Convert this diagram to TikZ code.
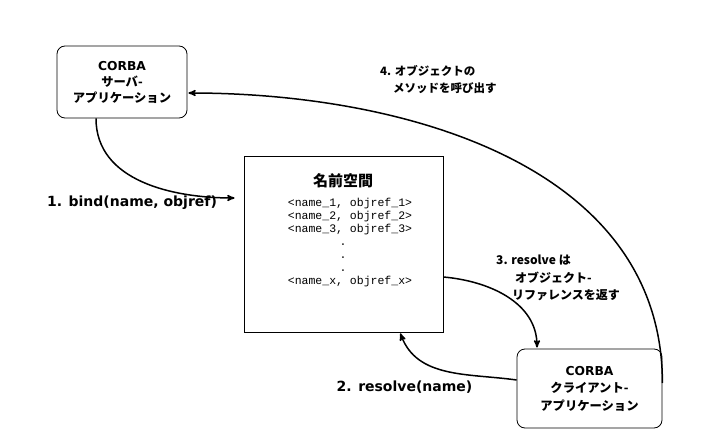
\documentclass[tikz,border=0pt]{standalone}
\usepackage{fontspec}
\newfontfamily\jpfont{Noto Sans CJK JP}
\newfontfamily\dvfont{DejaVu Sans}
\newfontfamily\monofont{Liberation Mono}
\usetikzlibrary{arrows}

\begin{document}
\begin{tikzpicture}[>=stealth',shorten >=1pt,auto,x=1pt,y=1pt,
    app/.style={draw,rounded corners=8pt,line width=0.8pt,align=center,
      font=\jpfont\bfseries\fontsize{12.3}{16}\selectfont},
    lbl/.style={font=\dvfont\bfseries\fontsize{14}{17}\selectfont},
    jplbl/.style={align=left,inner sep=0pt,font=\jpfont\bfseries\fontsize{12}{17.5}\selectfont},
    call/.style={->,line width=1.5pt}]

                \useasboundingbox (0,0) rectangle (720,445);

                \node[app,minimum width=130pt,minimum height=72pt] (srv) at (122,363)
                    {{\dvfont CORBA}\\サーバ-\\アプリケーション};

                \node[app,minimum width=145pt,minimum height=79pt,
                    font=\jpfont\bfseries\fontsize{12.3}{17.5}\selectfont] (cli) at (589.5,56.5)
                    {{\dvfont CORBA}\\クライアント-\\アプリケーション};

                \node[draw,line width=0.8pt,minimum width=199pt,minimum height=176pt] (ns) at (343.5,201) {};

                \node[font=\jpfont\bfseries\fontsize{15}{18}\selectfont] (nstitle) at (343,264) {名前空間};

                \node[align=center,font=\monofont\fontsize{11.5}{13}\selectfont] (nslist) at (350,202)
                    {<name\_1, objref\_1>\\<name\_2, objref\_2>\\<name\_3, objref\_3>\\
                     \hspace*{-14pt}.\\\hspace*{-14pt}.\\\hspace*{-14pt}.\\<name\_x, objref\_x>};

                \node[lbl] (bindlbl) at (132,242) {1. bind(name, objref)};

                \node[lbl] (reslbl) at (404.5,58) {2. resolve(name)};

                \node[jplbl,anchor=north west] (retlbl) at (496,190)
                    {3. resolve は\\\hspace*{19pt}オブジェクト-\\\hspace*{16pt}リファレンスを返す};

                \node[jplbl,anchor=north west,font=\jpfont\bfseries\fontsize{11.5}{17}\selectfont] (invlbl) at (380,380)
                    {4. オブジェクトの\\\hspace*{13pt}メソッドを呼び出す};

                \coordinate (bindend) at ([shift={(-8pt,46pt)}]ns.west);

                \path[call] ([xshift=-26pt]srv.south) edge [out=-90,in=180] (bindend)

                            ([yshift=8.5pt]cli.west) edge [out=172,in=-70] ([xshift=56.5pt]ns.south)

                            ([yshift=-33pt]ns.east) edge [out=-5,in=90] ([xshift=-52.5pt]cli.north)

                            ([yshift=5.5pt]cli.east) edge [out=90,in=0] ([yshift=-11pt]srv.east);

            \end{tikzpicture}
\end{document}
